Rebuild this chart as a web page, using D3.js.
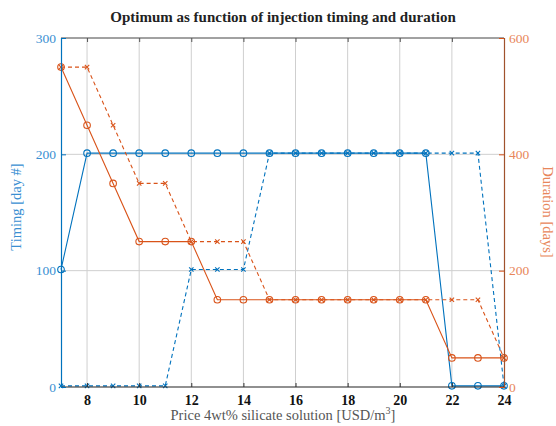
<!DOCTYPE html>
<html>
<head>
<meta charset="utf-8">
<script src="https://cdn.jsdelivr.net/npm/d3@7"></script>
<style>
  html, body { margin: 0; padding: 0; background: #fff; }
  svg { display: block; }
  svg text { font-family: "Liberation Serif", "DejaVu Serif", serif; }
</style>
</head>
<body>
<svg id="chart" width="556" height="426"></svg>
<script>
// Price of the silicate solution (USD/m^3)
const prices = [7, 8, 9, 10, 11, 12, 13, 14, 15, 16, 17, 18, 19, 20, 21, 22, 23, 24];
// Optimal injection timing (day #), two cases
const timingSolid  = [101, 201, 201, 201, 201, 201, 201, 201, 201, 201, 201, 201, 201, 201, 201, 1, 1, 1];
const timingDashed = [1, 1, 1, 1, 1, 101, 101, 101, 201, 201, 201, 201, 201, 201, 201, 201, 201, 1];
// Optimal injection duration (days), two cases
const durationSolid  = [550, 450, 350, 250, 250, 250, 150, 150, 150, 150, 150, 150, 150, 150, 150, 50, 50, 50];
const durationDashed = [550, 550, 450, 350, 350, 250, 250, 250, 150, 150, 150, 150, 150, 150, 150, 150, 150, 50];

const xTicks = [8, 10, 12, 14, 16, 18, 20, 22, 24];
const leftTicks = [0, 100, 200, 300];
const rightTicks = [0, 200, 400, 600];

const blue = "#0072bd", orange = "#d95319";
const blueText = "#3a8fd2", orangeText = "#e8865a";

const svg = d3.select("#chart");
const m = { left: 61, right: 504, top: 38, bottom: 387 };

const x = d3.scaleLinear().domain([7, 24]).range([m.left, m.right]);
const yL = d3.scaleLinear().domain([0, 300]).range([m.bottom, m.top]);
const yR = d3.scaleLinear().domain([0, 600]).range([m.bottom, m.top]);

// grid
const grid = svg.append("g").attr("stroke", "#cfcfcf").attr("stroke-width", 1);
xTicks.filter(t => t < 24).forEach(t => {
  grid.append("line").attr("x1", x(t)).attr("x2", x(t)).attr("y1", m.top).attr("y2", m.bottom);
});
[100, 200].forEach(t => {
  grid.append("line").attr("x1", m.left).attr("x2", m.right).attr("y1", yL(t)).attr("y2", yL(t));
});

// series
function drawSeries(xs, ys, yScale, color, dashed, marker) {
  const pts = xs.map((d, i) => [x(d), yScale(ys[i])]);
  svg.append("path")
    .attr("d", d3.line()(pts))
    .attr("fill", "none")
    .attr("stroke", color)
    .attr("stroke-width", 1.1)
    .attr("stroke-dasharray", dashed ? "4,3" : null);
  const g = svg.append("g").attr("stroke", color).attr("fill", "none").attr("stroke-width", 1.1);
  pts.forEach(p => {
    if (marker === "o") {
      g.append("circle").attr("cx", p[0]).attr("cy", p[1]).attr("r", 3.3);
    } else {
      const s = 2.2;
      g.append("path").attr("d", `M${p[0]-s},${p[1]-s}L${p[0]+s},${p[1]+s}M${p[0]-s},${p[1]+s}L${p[0]+s},${p[1]-s}`);
    }
  });
}
drawSeries(prices, timingDashed, yL, blue, true, "x");
drawSeries(prices, timingSolid, yL, blue, false, "o");
drawSeries(prices, durationDashed, yR, orange, true, "x");
drawSeries(prices, durationSolid, yR, orange, false, "o");

// frame
svg.append("line").attr("x1", m.left).attr("x2", m.right).attr("y1", m.top).attr("y2", m.top)
  .attr("stroke", "#444").attr("stroke-width", 1);
svg.append("line").attr("x1", m.left).attr("x2", m.right).attr("y1", m.bottom).attr("y2", m.bottom)
  .attr("stroke", "#222").attr("stroke-width", 1.2);

// x axis
const xAxis = svg.append("g").attr("transform", `translate(0,${m.bottom})`)
  .call(d3.axisBottom(x).tickValues(xTicks).tickSize(-4).tickPadding(8).tickFormat(d3.format("d")));
xAxis.attr("font-family", null);
xAxis.select(".domain").remove();
xAxis.selectAll(".tick line").attr("stroke", "#333");
xAxis.selectAll(".tick text").attr("font-size", 14).attr("font-weight", "bold").attr("fill", "#111");
const xTop = svg.append("g").attr("transform", `translate(0,${m.top})`)
  .call(d3.axisTop(x).tickValues(xTicks).tickSize(-4).tickFormat(""));
xTop.select(".domain").remove();
xTop.selectAll(".tick line").attr("stroke", "#555");

// left axis
const left = svg.append("g").attr("transform", `translate(${m.left},0)`)
  .call(d3.axisLeft(yL).tickValues(leftTicks).tickSize(-5).tickPadding(5).tickFormat(d3.format("d")));
left.attr("font-family", null);
left.select(".domain").attr("stroke", blue).attr("stroke-width", 1.2);
left.selectAll(".tick line").attr("stroke", blue);
left.selectAll(".tick text").attr("font-size", 13.5).attr("fill", blueText);

// right axis
const right = svg.append("g").attr("transform", `translate(${m.right},0)`)
  .call(d3.axisRight(yR).tickValues(rightTicks).tickSize(-5).tickPadding(5).tickFormat(d3.format("d")));
right.attr("font-family", null);
right.select(".domain").attr("stroke", "#a0522d").attr("stroke-width", 1.2);
right.selectAll(".tick line").attr("stroke", orange);
right.selectAll(".tick text").attr("font-size", 13.5).attr("fill", orangeText);

// title
svg.append("text").attr("x", 283).attr("y", 22).attr("text-anchor", "middle")
  .attr("font-size", 15).attr("font-weight", "bold").attr("fill", "#222")
  .text("Optimum as function of injection timing and duration");

// axis labels
const xl = svg.append("text").attr("x", 283).attr("y", 420).attr("text-anchor", "middle")
  .attr("font-size", 14.5).attr("fill", "#555");
xl.append("tspan").text("Price 4wt% silicate solution [USD/m");
xl.append("tspan").attr("font-size", 10).attr("dy", -6).text("3");
xl.append("tspan").attr("dy", 6).text("]");

svg.append("text").attr("transform", `translate(21,207) rotate(-90)`)
  .attr("text-anchor", "middle").attr("font-size", 14.5).attr("fill", blueText)
  .text("Timing [day #]");
svg.append("text").attr("transform", `translate(543,212) rotate(90)`)
  .attr("text-anchor", "middle").attr("font-size", 14.5).attr("fill", orangeText)
  .text("Duration [days]");
</script>
</body>
</html>
